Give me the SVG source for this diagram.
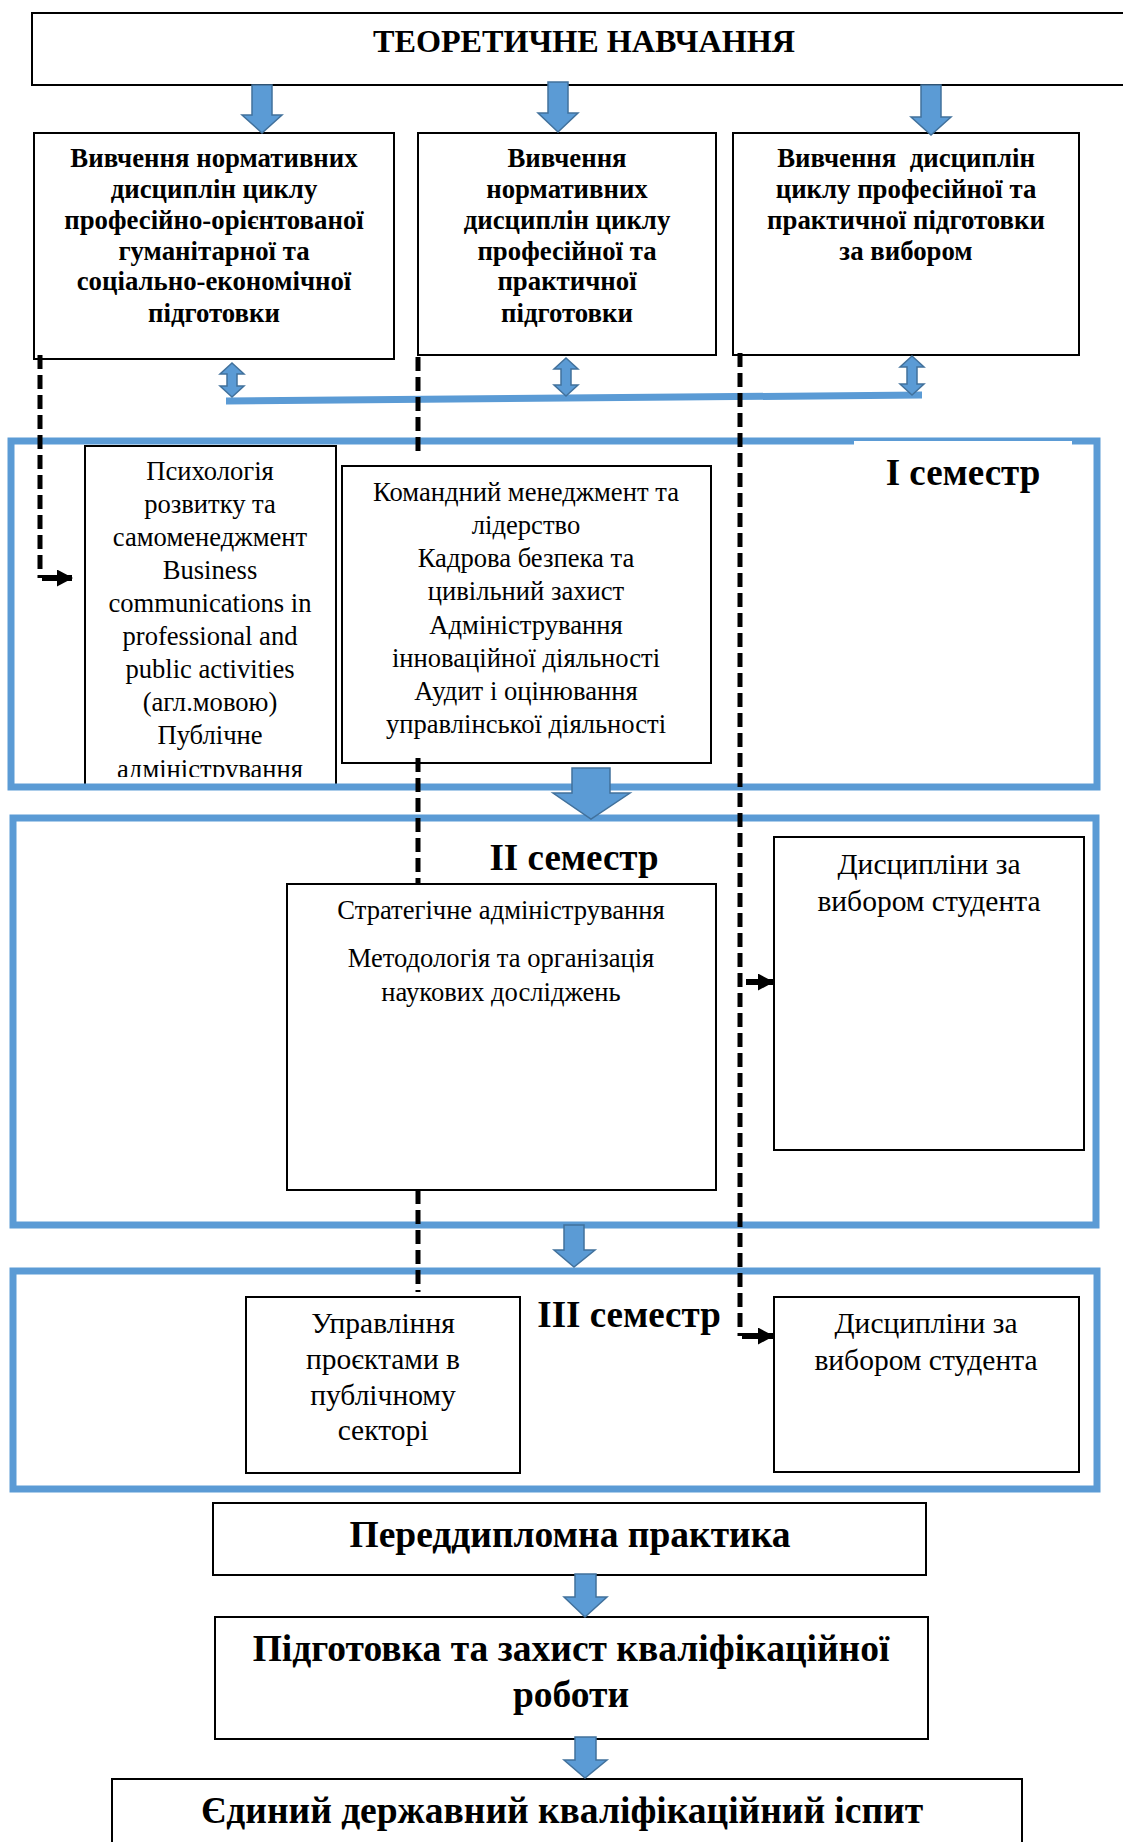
<svg xmlns="http://www.w3.org/2000/svg" width="1123" height="1842" viewBox="0 0 1123 1842">
<style>
  text { font-family: "Liberation Serif", "Times New Roman", serif; fill: #000; text-anchor: middle; }
  .b { font-weight: bold; font-size: 26.8px; }
  .r { font-size: 26.6px; }
  .rl { font-size: 29.5px; }
  .sl { font-weight: bold; font-size: 37px; }
  .big { font-weight: bold; font-size: 37.5px; }
  .title { font-weight: bold; font-size: 32.2px; }
  .box { fill: #fff; stroke: #000; stroke-width: 2; }
  .sem { fill: none; stroke: #5B9BD5; stroke-width: 7; }
  .blk { fill: #5B9BD5; stroke: #41719C; stroke-width: 1.5; }
  .dash { fill: none; stroke: #000; stroke-width: 5; stroke-dasharray: 14 6; }
  .arr { fill: none; stroke: #000; stroke-width: 6; marker-end: url(#ah); }
</style>
<defs>
  <marker id="ah" viewBox="0 0 16 17" refX="15" refY="8.5" markerWidth="16" markerHeight="17" markerUnits="userSpaceOnUse" orient="auto">
    <path d="M0,0 L16,8.5 L0,17 Z" fill="#000"/>
  </marker>
  <clipPath id="clipPsy"><rect x="84" y="440" width="254" height="337"/></clipPath>
</defs>
<rect width="1123" height="1842" fill="#fff"/>

<g id="theory">
  <rect class="box" x="32" y="13" width="1100" height="72"/>
  <text class="title" x="584" y="52">ТЕОРЕТИЧНЕ НАВЧАННЯ</text>
</g>

<g id="normHum">
  <rect class="box" x="34" y="133" width="360" height="226"/>
  <text class="b" x="214" y="167">Вивчення нормативних</text>
  <text class="b" x="214" y="198">дисциплін циклу</text>
  <text class="b" x="214" y="229">професійно-орієнтованої</text>
  <text class="b" x="214" y="260">гуманітарної та</text>
  <text class="b" x="214" y="290">соціально-економічної</text>
  <text class="b" x="214" y="322">підготовки</text>
</g>

<g id="normProf">
  <rect class="box" x="418" y="133" width="298" height="222"/>
  <text class="b" x="567" y="167">Вивчення</text>
  <text class="b" x="567" y="198">нормативних</text>
  <text class="b" x="567" y="229">дисциплін циклу</text>
  <text class="b" x="567" y="260">професійної та</text>
  <text class="b" x="567" y="290">практичної</text>
  <text class="b" x="567" y="322">підготовки</text>
</g>

<g id="elective">
  <rect class="box" x="733" y="133" width="346" height="222"/>
  <text class="b" x="906" y="167" style="white-space:pre">Вивчення  дисциплін</text>
  <text class="b" x="906" y="198">циклу професійної та</text>
  <text class="b" x="906" y="229">практичної підготовки</text>
  <text class="b" x="906" y="260">за вибором</text>
</g>

<g id="psy">
  <rect class="box" x="85" y="446" width="251" height="341"/>
  <g clip-path="url(#clipPsy)">
    <text class="r" x="210" y="480">Психологія</text>
    <text class="r" x="210" y="513">розвитку та</text>
    <text class="r" x="210" y="546">самоменеджмент</text>
    <text class="r" x="210" y="579">Business</text>
    <text class="r" x="210" y="612">communications in</text>
    <text class="r" x="210" y="645">professional and</text>
    <text class="r" x="210" y="678">public activities</text>
    <text class="r" x="210" y="711">(агл.мовою)</text>
    <text class="r" x="210" y="744">Публічне</text>
    <text class="r" x="210" y="778">адміністрування</text>
  </g>
</g>

<g id="team">
  <rect class="box" x="342" y="466" width="369" height="297"/>
  <text class="r" x="526" y="501">Командний менеджмент та</text>
  <text class="r" x="526" y="534">лідерство</text>
  <text class="r" x="526" y="567">Кадрова безпека та</text>
  <text class="r" x="526" y="600">цивільний захист</text>
  <text class="r" x="526" y="634">Адміністрування</text>
  <text class="r" x="526" y="667">інноваційної діяльності</text>
  <text class="r" x="526" y="700">Аудит і оцінювання</text>
  <text class="r" x="526" y="733">управлінської діяльності</text>
</g>

<g id="strategic">
  <rect class="box" x="287" y="884" width="429" height="306"/>
  <text class="r" x="501" y="919">Стратегічне адміністрування</text>
  <text class="r" x="501" y="967">Методологія та організація</text>
  <text class="r" x="501" y="1001">наукових досліджень</text>
</g>

<g id="choice2">
  <rect class="box" x="774" y="837" width="310" height="313"/>
  <text class="rl" x="929" y="874">Дисципліни за</text>
  <text class="rl" x="929" y="911">вибором студента</text>
</g>

<g id="projects">
  <rect class="box" x="246" y="1297" width="274" height="176"/>
  <text class="rl" x="383" y="1333">Управління</text>
  <text class="rl" x="383" y="1369">проєктами в</text>
  <text class="rl" x="383" y="1405">публічному</text>
  <text class="rl" x="383" y="1440">секторі</text>
</g>

<g id="choice3">
  <rect class="box" x="774" y="1297" width="305" height="175"/>
  <text class="rl" x="926" y="1333">Дисципліни за</text>
  <text class="rl" x="926" y="1370">вибором студента</text>
</g>

<g id="sem1">
  <rect class="sem" x="11" y="441" width="1086" height="346"/>
  <rect x="854" y="441" width="218" height="40" fill="#fff"/>
  <text class="sl" x="963" y="485">I семестр</text>
</g>

<g id="sem2">
  <rect class="sem" x="13" y="818" width="1083" height="407"/>
  <text class="sl" x="574" y="870">II семестр</text>
</g>

<g id="sem3">
  <rect class="sem" x="13" y="1271" width="1084" height="218"/>
  <text class="sl" x="629" y="1327">III семестр</text>
</g>

<g id="practice">
  <rect class="box" x="213" y="1503" width="713" height="72"/>
  <text class="big" x="570" y="1547">Переддипломна практика</text>
</g>

<g id="thesis">
  <rect class="box" x="215" y="1617" width="713" height="122"/>
  <text class="big" x="571" y="1661">Підготовка та захист кваліфікаційної</text>
  <text class="big" x="571" y="1707">роботи</text>
</g>

<g id="exam">
  <rect class="box" x="112" y="1779" width="910" height="80"/>
  <text class="big" x="562" y="1823">Єдиний державний кваліфікаційний іспит</text>
</g>

<g id="connectors">
  <path class="blk" d="M252,85 H272 V115 H282 L262,133 L242,115 H252 Z"/>
  <path class="blk" d="M548,82 H568 V113 H578 L558,132 L538,113 H548 Z"/>
  <path class="blk" d="M921,85 H941 V117 H951 L931,135 L911,117 H921 Z"/>

  <line x1="226" y1="401" x2="922" y2="395" stroke="#5B9BD5" stroke-width="7"/>
  <path class="blk" d="M232,363 L244,374 H237 V386 H244 L232,397 L220,386 H227 V374 H220 Z"/>
  <path class="blk" d="M566,358 L578,369 H571 V385 H578 L566,396 L554,385 H561 V369 H554 Z"/>
  <path class="blk" d="M912,356 L924,367 H917 V384 H924 L912,395 L900,384 H907 V367 H900 Z"/>

  <path class="blk" d="M572,768 H610 V793 H630 L591,819 L553,793 H572 Z"/>
  <path class="blk" d="M564,1225 H584 V1250 H595 L574,1267 L554,1250 H564 Z"/>
  <path class="blk" d="M575,1574 H596 V1597 H607 L585,1617 L564,1597 H575 Z"/>
  <path class="blk" d="M575,1737 H596 V1760 H607 L585,1778 L564,1760 H575 Z"/>

  <path class="dash" d="M40,355 V578"/>
  <path class="arr" d="M42,578 H72"/>

  <path class="dash" d="M418,357 V453"/>
  <path class="dash" d="M418,758 V884"/>
  <path class="dash" d="M418,1190 V1292"/>

  <path class="dash" d="M740,353 V1336"/>
  <path class="arr" d="M746,982 H773"/>
  <path class="arr" d="M742,1336 H773"/>
</g>
</svg>
